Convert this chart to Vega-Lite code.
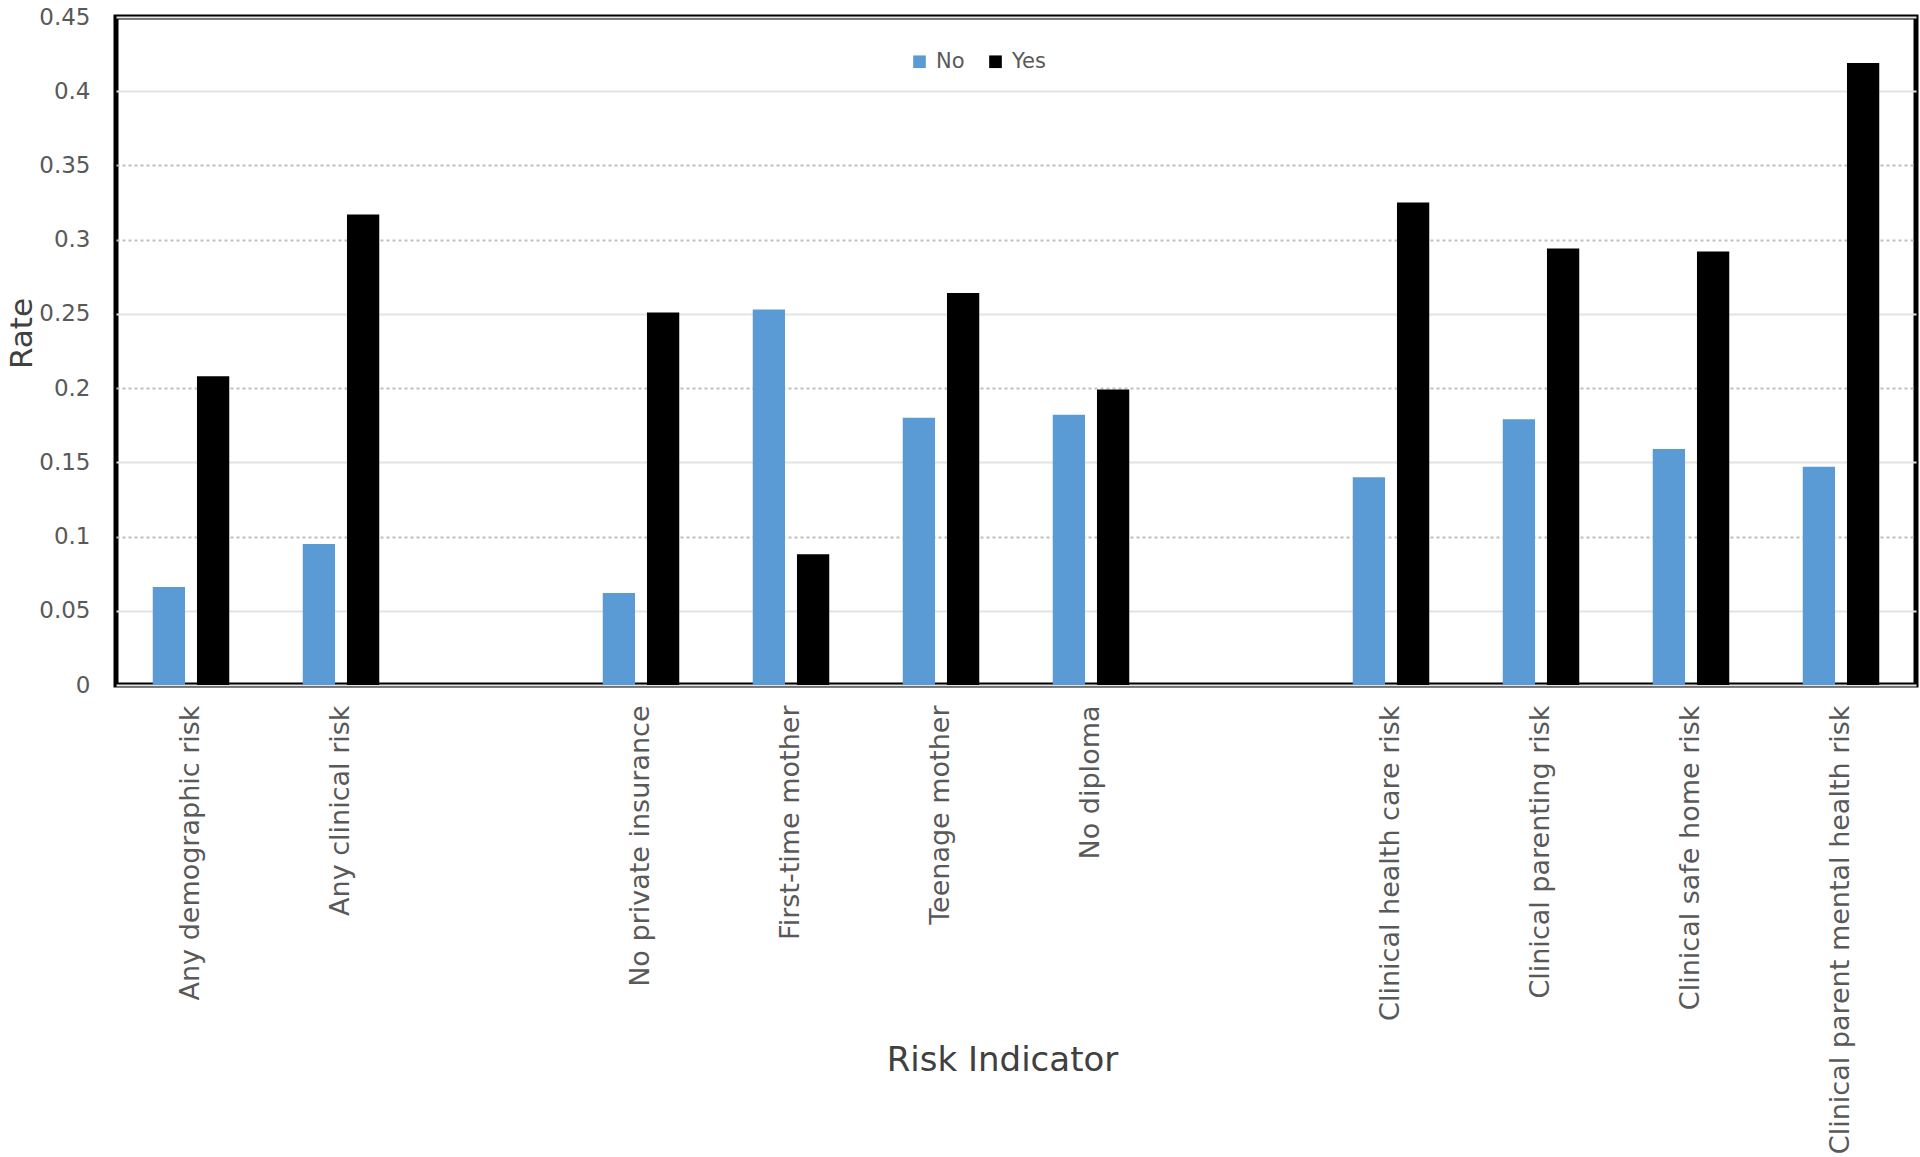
{
  "$schema": "https://vega.github.io/schema/vega-lite/v6.json",
  "autosize": {"type": "none"},
  "width": 1800,
  "height": 668,
  "padding": {"left": 116, "top": 17, "right": 4, "bottom": 472},
  "background": "white",
  "config": {
    "view": {"stroke": "#000000", "strokeWidth": 5},
    "font": "DejaVu Sans"
  },
  "data": {
    "values": [
      {"indicator": "Any demographic risk", "group": "No", "rate": 0.066},
      {"indicator": "Any demographic risk", "group": "Yes", "rate": 0.208},
      {"indicator": "Any clinical risk", "group": "No", "rate": 0.095},
      {"indicator": "Any clinical risk", "group": "Yes", "rate": 0.317},
      {"indicator": "No private insurance", "group": "No", "rate": 0.062},
      {"indicator": "No private insurance", "group": "Yes", "rate": 0.251},
      {"indicator": "First-time mother", "group": "No", "rate": 0.253},
      {"indicator": "First-time mother", "group": "Yes", "rate": 0.088},
      {"indicator": "Teenage mother", "group": "No", "rate": 0.180},
      {"indicator": "Teenage mother", "group": "Yes", "rate": 0.264},
      {"indicator": "No diploma", "group": "No", "rate": 0.182},
      {"indicator": "No diploma", "group": "Yes", "rate": 0.199},
      {"indicator": "Clinical health care risk", "group": "No", "rate": 0.140},
      {"indicator": "Clinical health care risk", "group": "Yes", "rate": 0.325},
      {"indicator": "Clinical parenting risk", "group": "No", "rate": 0.179},
      {"indicator": "Clinical parenting risk", "group": "Yes", "rate": 0.294},
      {"indicator": "Clinical safe home risk", "group": "No", "rate": 0.159},
      {"indicator": "Clinical safe home risk", "group": "Yes", "rate": 0.292},
      {"indicator": "Clinical parent mental health risk", "group": "No", "rate": 0.147},
      {"indicator": "Clinical parent mental health risk", "group": "Yes", "rate": 0.419}
    ]
  },
  "mark": {"type": "bar"},
  "encoding": {
    "x": {
      "field": "indicator",
      "type": "nominal",
      "sort": null,
      "scale": {
        "domain": ["Any demographic risk", "Any clinical risk", " ", "No private insurance", "First-time mother", "Teenage mother", "No diploma", "  ", "Clinical health care risk", "Clinical parenting risk", "Clinical safe home risk", "Clinical parent mental health risk"],
        "paddingInner": 0.49,
        "paddingOuter": 0.245
      },
      "axis": {
        "title": "Risk Indicator",
        "titleFontSize": 34,
        "titleFontWeight": "normal",
        "titleColor": "#404040",
        "titleX": 886,
        "titleY": 375,
        "titleBaseline": "middle",
        "labelAngle": -90,
        "labelFontSize": 27,
        "labelColor": "#595959",
        "labelPadding": 20,
        "labelLimit": 600,
        "ticks": false,
        "domain": false
      }
    },
    "xOffset": {
      "field": "group",
      "type": "nominal",
      "scale": {"paddingInner": 0.27, "paddingOuter": 0}
    },
    "y": {
      "field": "rate",
      "type": "quantitative",
      "scale": {"domain": [0, 0.45], "nice": false},
      "axis": {
        "title": "Rate",
        "titleFontSize": 31,
        "titleFontWeight": "normal",
        "titleColor": "#404040",
        "titleX": -94,
        "titleY": 316,
        "titleBaseline": "middle",
        "titleAngle": -90,
        "values": [0, 0.05, 0.1, 0.15, 0.2, 0.25, 0.3, 0.35, 0.4, 0.45],
        "format": "~g",
        "labelFontSize": 23,
        "labelColor": "#595959",
        "labelPadding": 26,
        "ticks": false,
        "domain": false,
        "grid": true,
        "gridColor": {"condition": {"test": "indexof([0.35,0.3,0.2,0.1], datum.value) >= 0", "value": "#bfbfbf"}, "value": "#e3e3e3"},
        "gridDash": {"condition": {"test": "indexof([0.35,0.3,0.2,0.1], datum.value) >= 0", "value": [3, 3]}, "value": []},
        "gridWidth": 2
      }
    },
    "color": {
      "field": "group",
      "type": "nominal",
      "scale": {"domain": ["No", "Yes"], "range": ["#5B9BD5", "#000000"]},
      "legend": {
        "title": null,
        "orient": "none",
        "legendX": 793,
        "legendY": 34,
        "direction": "horizontal",
        "symbolType": "square",
        "symbolSize": 160,
        "labelFontSize": 21,
        "labelColor": "#595959",
        "columnPadding": 20,
        "labelOffset": 6
      }
    }
  }
}
